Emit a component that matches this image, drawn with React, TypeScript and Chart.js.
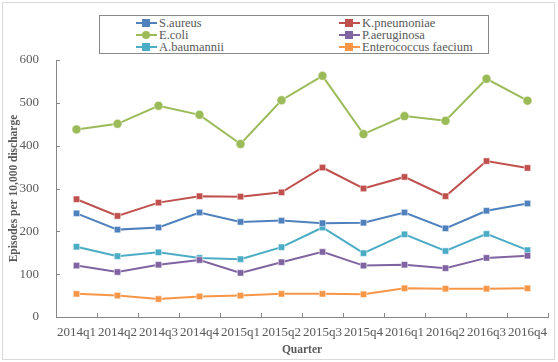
import React, { useEffect, useRef } from "react";
import { Chart, registerables } from "chart.js";

Chart.register(...registerables);

const categories = ["2014q1","2014q2","2014q3","2014q4","2015q1","2015q2","2015q3","2015q4","2016q1","2016q2","2016q3","2016q4"];
const sAureus = [242, 204, 209, 244, 222, 225, 219, 220, 244, 207, 248, 265];
const kPneumoniae = [275, 236, 267, 282, 281, 291, 349, 300, 327, 282, 364, 348];
const eColi = [438, 451, 493, 472, 404, 506, 563, 427, 469, 458, 556, 505];
const pAeruginosa = [120, 105, 122, 133, 103, 128, 152, 120, 122, 114, 138, 143];
const aBaumannii = [164, 142, 151, 138, 135, 163, 209, 149, 193, 154, 194, 156];
const enterococcus = [54, 50, 42, 48, 50, 54, 54, 53, 67, 66, 66, 67];
const yTicks = [0, 100, 200, 300, 400, 500, 600];

const series = [
  { label: "S.aureus", data: sAureus, color: "#4F81BD", style: "rect" },
  { label: "K.pneumoniae", data: kPneumoniae, color: "#C0504D", style: "rect" },
  { label: "E.coli", data: eColi, color: "#9BBB59", style: "circle" },
  { label: "P.aeruginosa", data: pAeruginosa, color: "#8064A2", style: "rect" },
  { label: "A.baumannii", data: aBaumannii, color: "#4BACC6", style: "rect" },
  { label: "Enterococcus faecium", data: enterococcus, color: "#F79646", style: "rect" },
];

const FONT = "'Liberation Serif', 'Times New Roman', serif";
const AXIS = "#868686";

const innerTicks = {
  id: "innerTicks",
  afterDatasetsDraw(chart: any) {
    const { ctx, chartArea } = chart;
    const x = chart.scales.x;
    const y = chart.scales.y;
    ctx.save();
    ctx.strokeStyle = AXIS;
    ctx.lineWidth = 1;
    ctx.beginPath();
    y.ticks.forEach((_t: any, i: number) => {
      const py = Math.round(y.getPixelForTick(i)) + 0.5;
      ctx.moveTo(chartArea.left, py);
      ctx.lineTo(chartArea.left + 4, py);
    });
    const n = categories.length;
    for (let i = 1; i <= n; i++) {
      const a = x.getPixelForValue(i - 1);
      const b = i < n ? x.getPixelForValue(i) : a + (a - x.getPixelForValue(i - 2));
      const px = Math.round((a + b) / 2) + 0.5;
      ctx.moveTo(px, chartArea.bottom);
      ctx.lineTo(px, chartArea.bottom - 4);
    }
    ctx.stroke();
    ctx.restore();
  },
};

export default function App() {
  const ref = useRef<HTMLCanvasElement>(null);
  useEffect(() => {
    document.body.style.margin = "0";
    const chart = new Chart(ref.current!, {
      type: "line",
      data: {
        labels: categories,
        datasets: series.map((s) => ({
          label: s.label,
          data: s.data,
          borderColor: s.color,
          backgroundColor: s.color,
          borderWidth: 2,
          pointStyle: s.style as any,
          pointRadius: 4.5,
          pointBorderWidth: 0.5,
          pointBorderColor: "#ffffff",
          tension: 0,
        })),
      },
      options: {
        animation: false,
        responsive: false,
        layout: { padding: { top: 60, right: 10, left: 0, bottom: 0 } },
        plugins: { legend: { display: false }, tooltip: { enabled: false } },
        scales: {
          x: {
            offset: true,
            grid: { display: false, drawOnChartArea: false },
            border: { display: true, color: AXIS, width: 1 },
            ticks: { color: "#595959", font: { family: FONT, size: 13 }, padding: 0, maxRotation: 0, autoSkip: false },
            title: { display: true, text: "Quarter", color: "#595959", font: { family: FONT, size: 11.5, weight: "bold" }, padding: { top: 0, bottom: 5 } },
            afterFit(scale: any) { scale.height = 45; },
          },
          y: {
            min: 0,
            max: 600,
            afterBuildTicks(scale: any) { scale.ticks = yTicks.map((v) => ({ value: v })); },
            grid: { display: false, drawOnChartArea: false },
            border: { display: true, color: AXIS, width: 1 },
            ticks: { color: "#595959", font: { family: FONT, size: 13 }, padding: 9 },
            title: { display: true, text: "Episodes per 10,000 discharge", color: "#595959", font: { family: FONT, size: 11.5, weight: "bold" }, padding: { top: 7, bottom: 0 } },
            afterFit(scale: any) { scale.width = 56; },
          },
        },
      },
      plugins: [innerTicks],
    });
    return () => chart.destroy();
  }, []);

  const legendItem = (s: any, i: number) => {
    const col = i % 2;
    const row = Math.floor(i / 2);
    return (
      <div key={s.label} style={{ position: "absolute", left: col === 0 ? 36 : 239, top: 1 + row * 12, height: 12, display: "flex", alignItems: "center", whiteSpace: "nowrap" }}>
        <div style={{ position: "relative", width: 21, height: 12, marginRight: 2 }}>
          <div style={{ position: "absolute", left: 0, top: 5, width: 21, height: 2, background: s.color }} />
          <div style={{ position: "absolute", left: 6, top: 2, width: 8, height: 8, background: s.color, borderRadius: s.style === "circle" ? "50%" : 0 }} />
        </div>
        <span style={{ fontFamily: FONT, fontSize: 12.5, color: "#595959", lineHeight: "12px" }}>{s.label}</span>
      </div>
    );
  };

  return (
    <div style={{ position: "relative", width: 558, height: 362, background: "#fff" }}>
      <canvas ref={ref} width={558} height={362} style={{ position: "absolute", left: 0, top: 0 }} />
      <div style={{ position: "absolute", left: 2, top: 2, width: 551, height: 356, border: "1px solid #d9d9d9", pointerEvents: "none" }} />
      <div style={{ position: "absolute", left: 99, top: 15, width: 388, height: 37, border: "1px solid #888", background: "#fff" }}>
        {series.map(legendItem)}
      </div>
    </div>
  );
}
